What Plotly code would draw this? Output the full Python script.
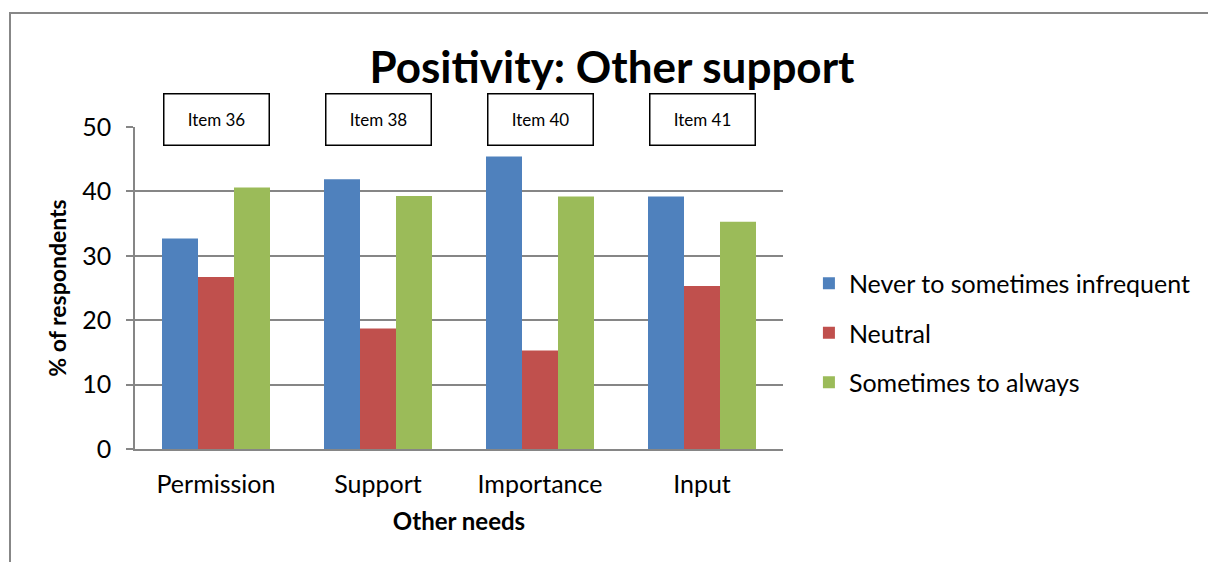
import plotly.graph_objects as go

categories = ["Permission", "Support", "Importance", "Input"]
item_labels = ["Item 36", "Item 38", "Item 40", "Item 41"]
never_vals = [32.7, 41.9, 45.4, 39.2]
neutral_vals = [26.7, 18.7, 15.3, 25.3]
always_vals = [40.6, 39.3, 39.2, 35.3]
series_names = ["Never to sometimes infrequent", "Neutral", "Sometimes to always"]
colors = ["#4F81BD", "#C0504D", "#9BBB59"]

FONT = "Lato"

fig = go.Figure()
for i, (name, vals) in enumerate(zip(series_names, [never_vals, neutral_vals, always_vals])):
    fig.add_trace(go.Bar(
        x=categories, y=vals, name=name,
        marker=dict(color=colors[i], line=dict(width=0)),
        legendgroup=name,
    ))

for cat, lab in zip(categories, item_labels):
    fig.add_annotation(
        x=cat, y=(449 - 120) / 322, xref="x", yref="paper", text=lab, showarrow=False,
        width=104, height=50, bordercolor="black", borderwidth=1.5, borderpad=0,
        bgcolor="white", font=dict(family=FONT, size=17, color="black"),
        valign="middle", yanchor="middle",
    )

# outer frame
fig.add_shape(type="rect", xref="paper", yref="paper",
              x0=(10 - 135) / 648, x1=(1230 - 135) / 648,
              y0=(449 - 600) / 322, y1=(449 - 13) / 322,
              line=dict(color="#878787", width=2), fillcolor="rgba(0,0,0,0)", layer="below")

fig.update_layout(
    width=1208, height=562,
    margin=dict(l=135, r=425, t=127, b=113),
    paper_bgcolor="white", plot_bgcolor="white",
    barmode="group", bargap=1/3, bargroupgap=0,
    font=dict(family=FONT, color="black"),
    title=dict(text="<b>Positivity: Other support</b>", x=612/1208, xanchor="center",
               y=1 - 68/562, yanchor="middle", yref="container",
               font=dict(family=FONT, size=44, color="black")),
    legend=dict(x=1.04, xanchor="left", y=0.36, yanchor="middle",
                font=dict(family=FONT, size=25, color="black"),
                traceorder="grouped", tracegroupgap=14, itemwidth=30,
                bgcolor="rgba(0,0,0,0)"),
    showlegend=True,
)
fig.update_xaxes(
    showline=True, linecolor="#868686", linewidth=2, ticks="",
    tickfont=dict(family=FONT, size=25, color="black"), ticklabelstandoff=12,
    title=dict(text="<b>Other needs</b>", font=dict(family=FONT, size=24, color="black"), standoff=16),
)
fig.update_yaxes(
    range=[0, 50], dtick=10, tick0=0, showgrid=True, gridcolor="#868686", gridwidth=1.5,
    showline=True, linecolor="#868686", linewidth=1.5, ticks="outside", ticklen=7,
    tickcolor="#868686", tickwidth=1.5,
    tickfont=dict(family=FONT, size=25, color="black"), ticklabelstandoff=10,
    title=dict(text="<b>% of respondents</b>", font=dict(family=FONT, size=23, color="black"), standoff=9),
    zeroline=False,
)

fig.write_html("out.html")
